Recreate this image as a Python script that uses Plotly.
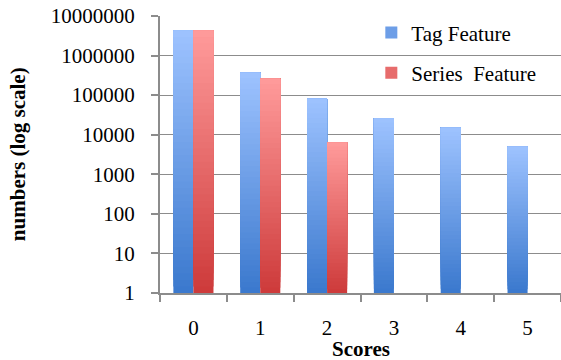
import plotly.graph_objects as go
import math

# ---- data ----
scores = ["0", "1", "2", "3", "4", "5"]
tag_feature = [4300000, 370000, 81000, 26000, 15000, 5000]
series_feature = [4300000, 260000, 6300, None, None, None]
ytick_vals = [1, 10, 100, 1000, 10000, 100000, 1000000, 10000000]
ytick_text = ["1", "10", "100", "1000", "10000", "100000", "1000000", "10000000"]

N_SEG = 40


def lerp(c0, c1, f):
    return "rgb(%d,%d,%d)" % tuple(round(a + (b - a) * f) for a, b in zip(c0, c1))


def add_gradient_bars(fig, values, name, group, bottom_rgb, top_rgb):
    # each layer spans from its own start up to the top of the bar,
    # drawn bottom-to-top so later (lighter) layers cover earlier ones
    for k in range(N_SEG):
        bases, heights = [], []
        for v in values:
            if v is None:
                bases.append(None)
                heights.append(None)
                continue
            t = math.log10(v)
            lo = 10 ** (t * k / N_SEG)
            bases.append(lo)
            heights.append(v - lo)
        color = lerp(bottom_rgb, top_rgb, (k + 0.5) / N_SEG)
        fig.add_trace(go.Bar(
            x=scores, y=heights, base=bases,
            offsetgroup=group, legendgroup=group,
            name=name, showlegend=(k == N_SEG // 2),
            marker=dict(color=color, line=dict(width=0)),
            hoverinfo="skip",
        ))


fig = go.Figure()
add_gradient_bars(fig, tag_feature, "Tag Feature", "tag", (58, 120, 205), (158, 195, 255))
add_gradient_bars(fig, series_feature, "Series\u00a0\u00a0Feature", "series", (205, 58, 58), (255, 155, 155))

font_family = "Liberation Serif"

fig.update_layout(
    width=561, height=360,
    margin=dict(l=160, r=0, t=16, b=67, autoexpand=False),
    paper_bgcolor="white", plot_bgcolor="white",
    barmode="group", bargap=0.4, bargroupgap=0,
    font=dict(family=font_family, size=21, color="black"),
    legend=dict(
        x=0.527, y=1.013, xanchor="left", yanchor="top",
        bgcolor="rgba(0,0,0,0)", tracegroupgap=10,
        font=dict(size=21), itemwidth=30,
    ),
    showlegend=True,
    annotations=[
        dict(text="<b>numbers (log scale)</b>", xref="paper", yref="paper",
             x=-0.355, y=0.5, textangle=-90, showarrow=False,
             font=dict(size=21), xanchor="center", yanchor="middle"),
        dict(text="<b>Scores</b>", xref="paper", yref="paper",
             x=0.5, y=-0.202, showarrow=False,
             font=dict(size=21), xanchor="center", yanchor="middle"),
    ],
)

fig.update_yaxes(
    type="log", range=[0, 7], automargin=False,
    tickmode="array", tickvals=ytick_vals, ticktext=ytick_text,
    showgrid=True, gridcolor="#8c8c8c", gridwidth=1,
    showline=True, linecolor="#8c8c8c", linewidth=2,
    ticks="outside", ticklen=7, tickcolor="#8c8c8c", tickwidth=2,
    ticklabelstandoff=12,
    zeroline=False,
)

fig.update_xaxes(
    type="category", categoryorder="array", categoryarray=scores,
    automargin=False,
    showgrid=False,
    showline=True, linecolor="#8c8c8c", linewidth=2,
    ticks="outside", ticklen=7, tickcolor="#8c8c8c", tickwidth=2,
    tickson="boundaries",
    ticklabelstandoff=15,
)

fig.write_html("out.html", config={"displayModeBar": False},
               post_script="document.body.style.margin='0';")
